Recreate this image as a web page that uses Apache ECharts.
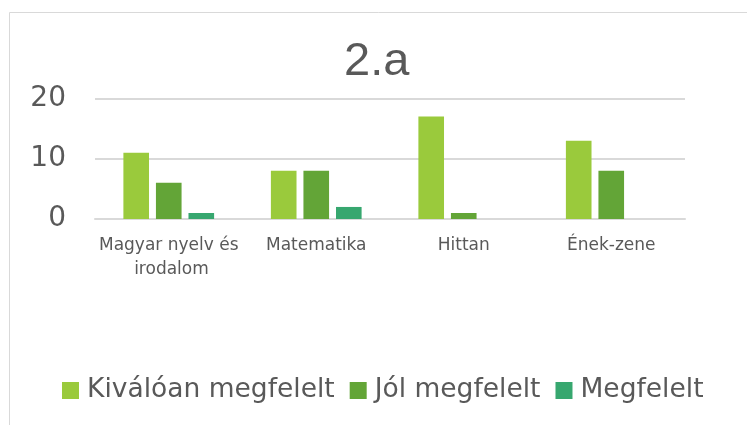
<!DOCTYPE html>
<html>
<head>
<meta charset="utf-8">
<script src="https://cdn.jsdelivr.net/npm/echarts@6/dist/echarts.min.js"></script>
<style>
  html, body { margin: 0; padding: 0; background: #fff; }
  #chart { width: 747px; height: 425px; }
</style>
</head>
<body>
<div id="chart"></div>
<script>
// adatok
const categories = ['Magyar nyelv és irodalom', 'Matematika', 'Hittan', 'Ének-zene'];
const seriesNames = ['Kiválóan megfelelt', 'Jól megfelelt', 'Megfelelt'];
const kivaloan = [11, 8, 17, 13];
const jol = [6, 8, 1, 8];
const megfelelt = [1, 2, 0, 0];
const colors = ['#9ACA3C', '#63A537', '#37A76F'];

const chart = echarts.init(document.getElementById('chart'), null, { renderer: 'canvas' });

const labelColor = '#595959';
const gridColor = '#d9d9d9';

function bar(name, data, color) {
  return {
    name: name,
    type: 'bar',
    data: data,
    barGap: '27%',
    barCategoryGap: '38.5%',
    itemStyle: { color: color },
    animation: false
  };
}

const option = {
  backgroundColor: '#fff',
  animation: false,
  title: {
    text: '2.a',
    left: 344,
    top: 39,
    padding: 0,
    textStyle: {
      fontFamily: 'Liberation Sans',
      fontSize: 47,
      fontWeight: 'normal',
      color: labelColor
    }
  },
  graphic: [{
    type: 'rect',
    shape: { x: 9.5, y: 12.5, width: 900, height: 600 },
    style: { fill: 'none', stroke: gridColor, lineWidth: 1 },
    silent: true,
    z: -1
  }],
  grid: { left: 95, right: 62, top: 98.5, bottom: 206 },
  xAxis: {
    type: 'category',
    data: categories,
    axisLine: { show: true, lineStyle: { color: gridColor, width: 2 } },
    axisTick: { show: false },
    axisLabel: {
      interval: 0,
      margin: 15,
      color: labelColor,
      fontFamily: 'DejaVu Sans',
      fontSize: 17,
      lineHeight: 24,
      width: 147,
      overflow: 'break'
    }
  },
  yAxis: {
    type: 'value',
    min: 0,
    max: 20,
    interval: 10,
    axisLine: { show: false },
    axisTick: { show: false },
    splitLine: { lineStyle: { color: gridColor, width: 2 } },
    axisLabel: {
      margin: 29,
      color: labelColor,
      fontFamily: 'DejaVu Sans',
      fontSize: 28
    }
  },
  legend: {
    data: seriesNames,
    left: 62,
    top: 377,
    padding: 0,
    itemWidth: 17,
    itemHeight: 17,
    itemGap: 15,
    icon: 'rect',
    textStyle: {
      color: labelColor,
      fontFamily: 'DejaVu Sans',
      fontSize: 26.5,
      padding: [0, 0, 0, 3]
    }
  },
  series: [
    bar(seriesNames[0], kivaloan, colors[0]),
    bar(seriesNames[1], jol, colors[1]),
    bar(seriesNames[2], megfelelt, colors[2])
  ]
};

chart.setOption(option);
</script>
</body>
</html>
